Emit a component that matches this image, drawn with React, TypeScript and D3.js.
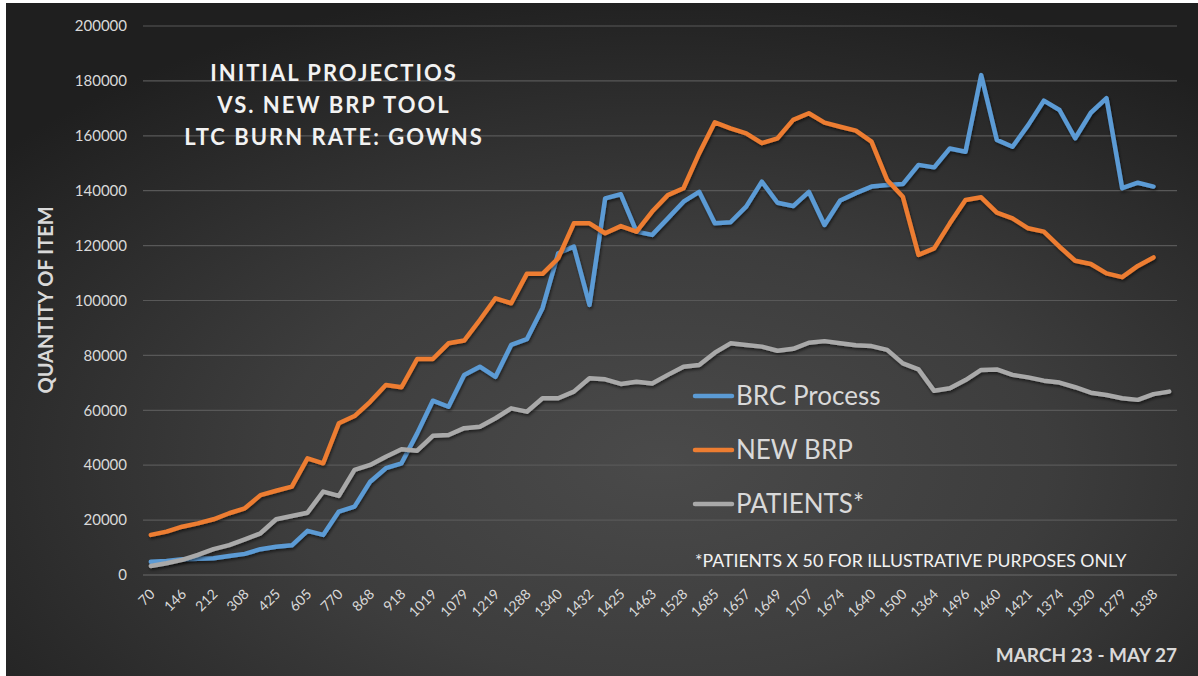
import React from "react";
import * as d3 from "d3";

// ---- data ----
const xTickLabels = [
  "70", "146", "212", "308", "425", "605", "770", "868", "918", "1019", "1079",
  "1219", "1288", "1340", "1432", "1425", "1463", "1528", "1685", "1657", "1649",
  "1707", "1674", "1640", "1500", "1364", "1496", "1460", "1421", "1374", "1320",
  "1279", "1338",
];
const categoryCount = 66;

const brcProcess = [
  4800, 5100, 5700, 5900, 6100, 6900, 7700, 9400, 10300, 10800,
  16100, 14600, 23100, 24900, 34000, 38900, 40700, 51600, 63500, 61300,
  72900, 75900, 72200, 83800, 85900, 97200, 117200, 119600, 98400, 137200,
  138700, 125100, 123900, 129900, 136000, 139600, 128100, 128500, 134200, 143300,
  135600, 134400, 139600, 127500, 136400, 139100, 141500, 142100, 142400, 149400,
  148500, 155400, 154200, 182100, 158500, 156000, 163900, 172800, 169400, 159100,
  168400, 173700, 140900, 142900, 141500,
];
const newBrp = [
  14600, 15800, 17600, 18800, 20300, 22500, 24300, 29100, 30700, 32200,
  42500, 40700, 55300, 57900, 63100, 69200, 68400, 78700, 78700, 84400,
  85400, 92900, 100800, 99000, 109700, 109700, 115400, 128100, 128100, 124500,
  127100, 125100, 132400, 138400, 140900, 153600, 164900, 162700, 160900, 157300,
  159100, 165800, 168200, 164800, 163300, 161900, 157900, 143900, 137800, 116600,
  119000, 128100, 136600, 137600, 132000, 129900, 126300, 125100, 119600, 114500,
  113300, 109900, 108500, 112600, 115700,
];
const patients = [
  3300, 4300, 5500, 7300, 9400, 10900, 13000, 15200, 20300, 21500,
  22700, 30400, 28800, 38300, 40100, 43100, 45800, 45300, 50700, 51000,
  53500, 54000, 57100, 60700, 59500, 64400, 64400, 66800, 71700, 71300,
  69600, 70400, 69800, 72900, 75900, 76500, 81000, 84400, 83800, 83200,
  81700, 82400, 84600, 85200, 84400, 83700, 83400, 82000, 77100, 74900,
  67100, 68000, 71000, 74700, 74900, 72900, 72000, 70800, 70100, 68400,
  66400, 65600, 64400, 63800, 65900, 66800,
];
const yTicks = [0, 20000, 40000, 60000, 80000, 100000, 120000, 140000, 160000, 180000, 200000];

const seriesNames = ["BRC Process", "NEW BRP", "PATIENTS*"];
const seriesColors = ["#5b9bd5", "#ed7d31", "#a9a9a9"];
const seriesData = [brcProcess, newBrp, patients];

const titleLines = ["INITIAL PROJECTIOS", "VS. NEW BRP TOOL", "LTC BURN RATE: GOWNS"];

const W = 1198;
const H = 676;
const FONT = "Lato, 'Open Sans', sans-serif";

export default function App() {
  const categories = d3.range(categoryCount);
  const x = d3.scalePoint<number>().domain(categories).range([143, 1177]).padding(0.5);
  const y = d3.scaleLinear().domain([0, 200000]).range([575, 26]);

  const line = d3
    .line<number>()
    .x((_, i) => x(i) as number)
    .y((d) => y(d));

  return (
    <div style={{ position: "absolute", left: 0, top: 0 }}>
      <svg width={W} height={H} style={{ display: "block" }}>
        <defs>
          <radialGradient id="bg" cx="0.55" cy="0.68" r="0.72" fx="0.55" fy="0.68">
            <stop offset="0" stopColor="#4a4a4a" />
            <stop offset="0.45" stopColor="#3d3d3d" />
            <stop offset="1" stopColor="#1f1f1f" />
          </radialGradient>
          <filter id="shadow" x="-5%" y="-5%" width="110%" height="115%">
            <feDropShadow dx="1" dy="2" stdDeviation="1.5" floodColor="#000" floodOpacity="0.55" />
          </filter>
        </defs>
        <rect x={0} y={0} width={W} height={H} fill="#ffffff" />
        <rect x={6} y={3} width={W - 6} height={H - 3} fill="url(#bg)" />

        {/* gridlines */}
        {yTicks.map((t) => (
          <line
            key={t}
            x1={143}
            x2={1177}
            y1={y(t)}
            y2={y(t)}
            stroke={t === 0 ? "#6a6a6a" : "#585858"}
            strokeWidth={1.2}
          />
        ))}

        {/* y tick labels */}
        {yTicks.map((t) => (
          <text
            key={"yl" + t}
            x={127}
            y={y(t)}
            dy="0.35em"
            textAnchor="end"
            fill="#d9d9d9"
            fontFamily={FONT}
            fontSize={15}
          >
            {t}
          </text>
        ))}

        {/* x tick labels */}
        {xTickLabels.map((lab, k) => {
          const cx = x(k * 2) as number;
          return (
            <text
              key={"xl" + k}
              transform={`translate(${cx + 5},${595}) rotate(-45)`}
              textAnchor="end"
              fill="#d9d9d9"
              fontFamily={FONT}
              fontSize={14}
            >
              {lab}
            </text>
          );
        })}

        {/* series lines */}
        {seriesData.map((s, i) => (
          <path
            key={"s" + i}
            d={line(s) || ""}
            fill="none"
            stroke={seriesColors[i]}
            strokeWidth={4.5}
            strokeLinejoin="round"
            strokeLinecap="round"
            filter="url(#shadow)"
          />
        ))}

        {/* title */}
        {titleLines.map((t, i) => (
          <text
            key={"t" + i}
            x={334}
            y={81 + i * 32}
            textAnchor="middle"
            fill="#f2f2f2"
            fontFamily={FONT}
            fontWeight={700}
            fontSize={22}
            letterSpacing={2}
          >
            {t}
          </text>
        ))}

        {/* y axis title */}
        <text
          transform={`translate(53,300) rotate(-90)`}
          textAnchor="middle"
          fill="#d9d9d9"
          fontFamily={FONT}
          fontWeight={700}
          fontSize={20}
        >
          QUANTITY OF ITEM
        </text>

        {/* legend */}
        {seriesNames.map((n, i) => {
          const ly = 396 + i * 54;
          return (
            <g key={"lg" + i}>
              <line
                x1={695}
                x2={732}
                y1={ly}
                y2={ly}
                stroke={seriesColors[i]}
                strokeWidth={4.5}
                strokeLinecap="round"
              />
              <text
                x={736}
                y={ly + 9}
                fill="#d9d9d9"
                fontFamily={FONT}
                fontSize={26}
              >
                {n}
              </text>
            </g>
          );
        })}

        {/* footnote */}
        <text x={695} y={567} fill="#f2f2f2" fontFamily={FONT} fontSize={17.7}>
          *PATIENTS X 50 FOR ILLUSTRATIVE PURPOSES ONLY
        </text>

        {/* date range */}
        <text
          x={1177}
          y={662}
          textAnchor="end"
          fill="#d9d9d9"
          fontFamily={FONT}
          fontWeight={700}
          fontSize={19}
        >
          MARCH 23 - MAY 27
        </text>
      </svg>
    </div>
  );
}
